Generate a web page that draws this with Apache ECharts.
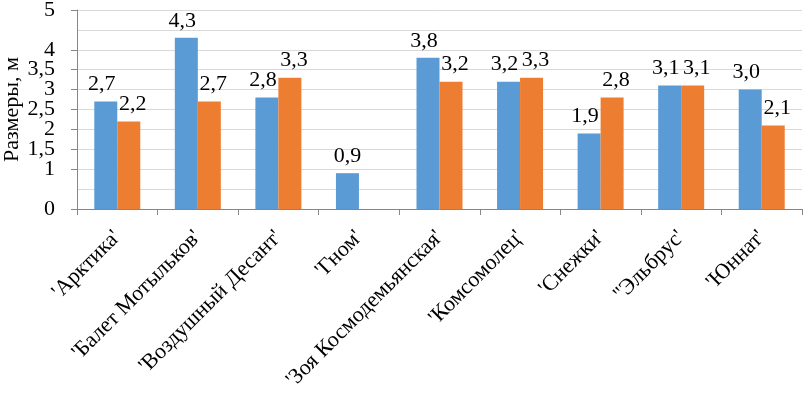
<!DOCTYPE html>
<html><head><meta charset="utf-8">
<script src="https://cdn.jsdelivr.net/npm/echarts@6/dist/echarts.min.js"></script>
<style>html,body{margin:0;padding:0;background:#fff}#c{width:804px;height:393px}</style>
</head><body><div id="c"></div>
<script>
const categories = ["'Арктика'", "'Балет Мотыльков'", "'Воздушный Десант'", "'Гном'", "'Зоя Космодемьянская'", "'Комсомолец'", "'Снежки'", "''Эльбрус'", "'Юннат'"];
const series1 = [2.7, 4.3, 2.8, 0.9, 3.8, 3.2, 1.9, 3.1, 3.0];
const series2 = [2.2, 2.7, 3.3, null, 3.2, 3.3, 2.8, 3.1, 2.1];
const yName = 'Размеры, м';

const fmt = v => v.toFixed(1).replace('.', ',');
const font = '"Liberation Serif", "Times New Roman", serif';
const chart = echarts.init(document.getElementById('c'));
const lbl = {show: true, position: 'top', distance: 6, color: '#000', fontFamily: font, fontSize: 22,
  formatter: p => p.value == null ? '' : fmt(p.value)};
const pair = i => series1[i] != null && series2[i] != null;
chart.setOption({
  animation: false,
  textStyle: {fontFamily: font},
  grid: {left: 77, right: 2, top: 10, bottom: 184, containLabel: false, outerBoundsMode: 'none'},
  xAxis: {
    type: 'category', data: categories,
    axisLine: {lineStyle: {color: '#868686'}},
    axisTick: {show: true, length: 6, lineStyle: {color: '#868686'}},
    axisLabel: {rotate: 45, margin: 25, color: '#000', fontFamily: font, fontSize: 22, interval: 0}
  },
  yAxis: {
    type: 'value', min: 0, max: 5, interval: 0.5,
    name: yName, nameLocation: 'middle', nameGap: 54, nameRotate: 90, nameMoveOverlap: false,
    nameTextStyle: {color: '#000', fontFamily: font, fontSize: 22},
    axisLine: {show: true, lineStyle: {color: '#868686'}},
    axisTick: {show: true, length: 6, lineStyle: {color: '#868686'}},
    splitLine: {lineStyle: {color: '#d9d9d9'}},
    axisLabel: {margin: 22, color: '#000', fontFamily: font, fontSize: 22, lineHeight: 12, height: 12,
      padding: [-2, 0, -2, 0],
      interval: 0, showMinLabel: true, showMaxLabel: true, hideOverlap: false,
      formatter: v => String(v).replace('.', ',')}
  },
  series: [
    {type: 'bar', data: series1, barWidth: 23, barGap: '0%', itemStyle: {color: '#5B9BD5'}, label: lbl,
      labelLayout: p => ({dx: pair(p.dataIndex) ? -4 : 0})},
    {type: 'bar', data: series2, barWidth: 23, barGap: '0%', itemStyle: {color: '#ED7D31'}, label: lbl,
      labelLayout: p => ({dx: pair(p.dataIndex) ? 4 : 0})}
  ]
});
</script></body></html>
